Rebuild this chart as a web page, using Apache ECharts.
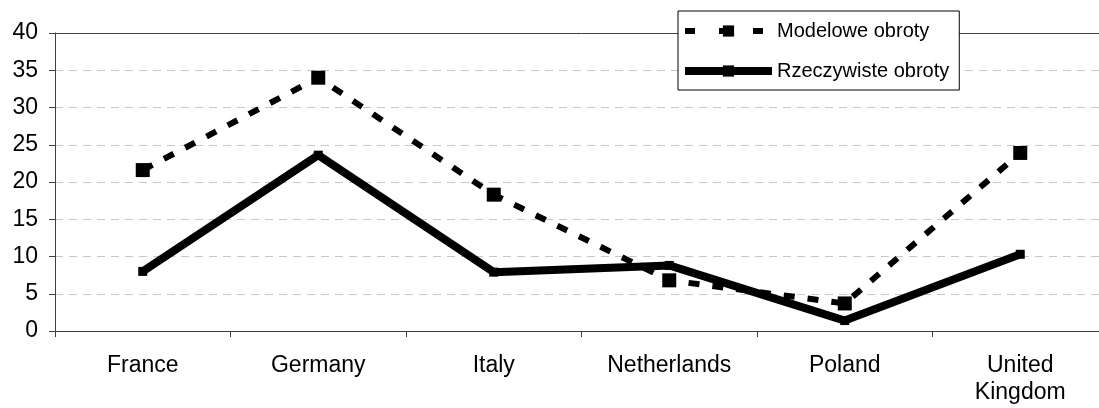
<!DOCTYPE html>
<html>
<head>
<meta charset="utf-8">
<script src="https://cdn.jsdelivr.net/npm/echarts@6/dist/echarts.min.js"></script>
<style>
  html, body { margin: 0; padding: 0; background: #fff; overflow: hidden; }
  /* the plot area runs past the right edge of the window */
  #chart { width: 1120px; height: 408px; }
</style>
</head>
<body>
<div id="chart"></div>
<script>
// Countries on the category axis
const countries = ['France', 'Germany', 'Italy', 'Netherlands', 'Poland', 'United\nKingdom'];
// Model turnover vs. actual turnover per country
const modelowe = [21.6, 34.0, 18.3, 6.8, 3.7, 23.9];
const rzeczywiste = [8.0, 23.6, 7.9, 8.8, 1.4, 10.3];
// Value-axis ticks
const yTicks = [0, 5, 10, 15, 20, 25, 30, 35, 40];

const font = 'Liberation Sans, Arial, sans-serif';
// Gridlines: hide the ones sitting on the bottom axis and the top border
const splitColors = yTicks.map((v, i) => (i === 0 || i === yTicks.length - 1) ? 'rgba(0,0,0,0)' : '#c8c8c8');

const chart = echarts.init(document.getElementById('chart'), null, { renderer: 'canvas' });
chart.setOption({
  animation: false,
  backgroundColor: '#ffffff',
  grid: { left: 55, top: 33, width: 1053, height: 298, containLabel: false },
  legend: {
    orient: 'vertical',
    left: 678,
    top: 11,
    backgroundColor: '#ffffff',
    borderColor: '#000000',
    borderWidth: 1,
    borderRadius: 0,
    padding: [10, 10, 9, 3],
    itemWidth: 87,
    itemHeight: 14,
    itemGap: 20,
    z: 10,
    textStyle: { fontFamily: font, fontSize: 20, color: '#000' },
    data: [
      { name: 'Modelowe obroty', lineStyle: { width: 6, type: [10, 24], color: '#000' } },
      { name: 'Rzeczywiste obroty', lineStyle: { width: 8, type: 'solid', color: '#000' } }
    ]
  },
  xAxis: [
    {
      type: 'category',
      data: countries,
      boundaryGap: true,
      axisLine: { show: true, lineStyle: { color: '#404040', width: 1 } },
      axisTick: { show: true, length: 6, alignWithLabel: false, lineStyle: { color: '#404040' } },
      axisLabel: { fontFamily: font, fontSize: 23, color: '#000', margin: 21, lineHeight: 27, interval: 0 },
      splitLine: { show: false }
    },
    {
      type: 'category',
      data: countries,
      position: 'top',
      axisLine: { show: true, lineStyle: { color: '#404040', width: 1 } },
      axisTick: { show: false },
      axisLabel: { show: false },
      splitLine: { show: false }
    }
  ],
  yAxis: {
    type: 'value',
    min: yTicks[0],
    max: yTicks[yTicks.length - 1],
    interval: 5,
    axisLine: { show: true, lineStyle: { color: '#404040', width: 1 } },
    axisTick: { show: true, length: 6, lineStyle: { color: '#404040' } },
    axisLabel: { fontFamily: font, fontSize: 23, color: '#000', margin: 17 },
    splitLine: { show: true, lineStyle: { color: splitColors, type: [8, 6], width: 1 } }
  },
  series: [
    {
      name: 'Modelowe obroty',
      type: 'line',
      data: modelowe,
      xAxisIndex: 0,
      symbol: 'rect',
      symbolSize: 14,
      color: '#000',
      itemStyle: { color: '#000' },
      lineStyle: { color: '#000', width: 6, type: [11, 13], cap: 'butt' },
      z: 3
    },
    {
      name: 'Rzeczywiste obroty',
      type: 'line',
      data: rzeczywiste,
      xAxisIndex: 0,
      symbol: 'rect',
      symbolSize: 9,
      color: '#000',
      itemStyle: { color: '#000' },
      lineStyle: { color: '#000', width: 8, type: 'solid', join: 'round' },
      z: 4
    }
  ]
});
</script>
</body>
</html>
